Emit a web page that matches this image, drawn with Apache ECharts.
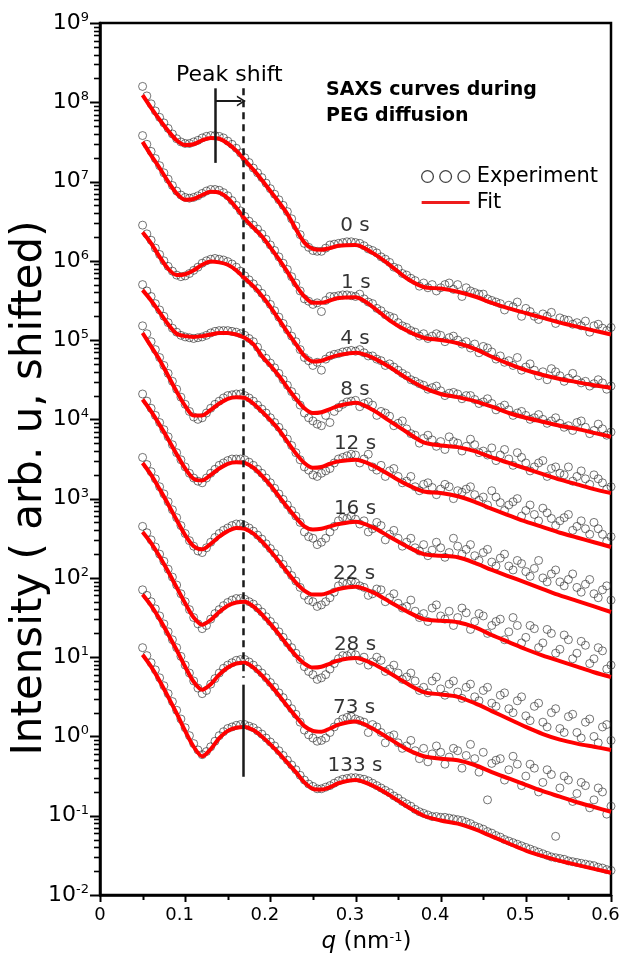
<!DOCTYPE html>
<html lang="en" style="height: 100%">
    <head>
        <meta charset="utf-8">
        <title>SAXS curves during PEG diffusion</title>
    </head>
    <body style="height: 100%; margin: 0; background: #fff">
        <div id="container" style="width: 621px; height: 965px"></div>
        <script src="https://cdn.jsdelivr.net/npm/echarts@6.0.0/dist/echarts.min.js"></script>
        <script>
            // q grid of the fit curves (nm^-1)
            let fitQ = [0.05, 0.06, 0.07, 0.08, 0.09, 0.10, 0.11, 0.12, 0.13, 0.14, 0.15, 0.16,
                0.17, 0.18, 0.19, 0.20, 0.21, 0.22, 0.23, 0.24, 0.25, 0.26, 0.27, 0.28,
                0.30, 0.32, 0.34, 0.36, 0.38, 0.40, 0.42, 0.44, 0.46, 0.48, 0.50, 0.52, 0.54, 0.56, 0.58, 0.60];

            // fit curves, log10 of intensity
            let fit0s = [8.09, 7.93, 7.78, 7.64, 7.52, 7.46, 7.47, 7.52, 7.55, 7.54, 7.48, 7.39, 7.27, 7.15, 7.02, 6.88, 6.74, 6.59, 6.40, 6.23, 6.15, 6.14, 6.16, 6.19,
                6.20, 6.10, 5.95, 5.78, 5.67, 5.65, 5.61, 5.55, 5.47, 5.40, 5.34, 5.28, 5.22, 5.17, 5.12, 5.07];
            let fit1s = [7.50, 7.33, 7.17, 7.00, 6.85, 6.77, 6.78, 6.83, 6.87, 6.86, 6.79, 6.67, 6.53, 6.42, 6.31, 6.17, 6.02, 5.86, 5.69, 5.55, 5.47, 5.47, 5.50, 5.53,
                5.54, 5.42, 5.25, 5.12, 5.03, 5.00, 4.96, 4.89, 4.79, 4.70, 4.62, 4.56, 4.51, 4.47, 4.43, 4.40];
            let fit4s = [6.36, 6.22, 6.05, 5.90, 5.82, 5.83, 5.88, 5.95, 5.99, 5.98, 5.95, 5.88, 5.78, 5.68, 5.56, 5.42, 5.26, 5.10, 4.95, 4.80, 4.73, 4.74, 4.78, 4.81,
                4.84, 4.78, 4.66, 4.52, 4.40, 4.32, 4.28, 4.23, 4.16, 4.08, 4.02, 3.97, 3.92, 3.88, 3.83, 3.78];
            let fit8s = [5.63, 5.50, 5.35, 5.20, 5.08, 5.05, 5.04, 5.05, 5.07, 5.09, 5.09, 5.07, 5.03, 4.95, 4.80, 4.68, 4.55, 4.40, 4.26, 4.14, 4.08, 4.09, 4.13, 4.17,
                4.21, 4.12, 3.98, 3.84, 3.71, 3.67, 3.65, 3.60, 3.52, 3.45, 3.38, 3.31, 3.24, 3.18, 3.12, 3.07];
            let fit12s = [5.09, 4.92, 4.75, 4.55, 4.35, 4.17, 4.05, 4.05, 4.12, 4.20, 4.26, 4.28, 4.27, 4.20, 4.10, 3.99, 3.87, 3.72, 3.57, 3.45, 3.39, 3.40, 3.44, 3.47,
                3.49, 3.42, 3.30, 3.18, 3.09, 3.07, 3.03, 2.96, 2.87, 2.79, 2.71, 2.64, 2.57, 2.51, 2.45, 2.39];
            let fit16s = [4.25, 4.10, 3.93, 3.75, 3.56, 3.38, 3.25, 3.23, 3.30, 3.38, 3.44, 3.46, 3.45, 3.39, 3.29, 3.17, 3.03, 2.89, 2.76, 2.65, 2.61, 2.62, 2.65, 2.68,
                2.71, 2.64, 2.52, 2.40, 2.30, 2.28, 2.26, 2.19, 2.10, 2.02, 1.94, 1.86, 1.78, 1.71, 1.64, 1.57];
            let fit22s = [3.45, 3.30, 3.12, 2.93, 2.73, 2.54, 2.40, 2.36, 2.43, 2.52, 2.59, 2.63, 2.62, 2.56, 2.46, 2.34, 2.21, 2.07, 1.94, 1.84, 1.79, 1.79, 1.82, 1.86,
                1.89, 1.82, 1.70, 1.58, 1.48, 1.46, 1.44, 1.38, 1.28, 1.19, 1.10, 1.02, 0.95, 0.88, 0.81, 0.75];
            let fit28s = [2.58, 2.44, 2.27, 2.08, 1.88, 1.68, 1.50, 1.41, 1.47, 1.57, 1.65, 1.69, 1.70, 1.64, 1.54, 1.42, 1.29, 1.15, 1.02, 0.92, 0.87, 0.88, 0.92, 0.96,
                0.99, 0.92, 0.80, 0.67, 0.56, 0.53, 0.50, 0.42, 0.32, 0.22, 0.12, 0.03, -0.04, -0.09, -0.13, -0.17];
            let fit73s = [1.79, 1.65, 1.48, 1.29, 1.09, 0.88, 0.69, 0.59, 0.66, 0.78, 0.87, 0.92, 0.93, 0.87, 0.77, 0.65, 0.52, 0.38, 0.25, 0.13, 0.07, 0.06, 0.10, 0.15,
                0.19, 0.10, -0.03, -0.16, -0.25, -0.28, -0.30, -0.36, -0.45, -0.53, -0.61, -0.69, -0.76, -0.83, -0.89, -0.95];
            let fit133s = [1.03, 0.88, 0.70, 0.50, 0.29, 0.07, -0.13, -0.25, -0.16, -0.02, 0.07, 0.11, 0.12, 0.08, 0.00, -0.10, -0.21, -0.33, -0.45, -0.58, -0.66, -0.67, -0.64, -0.59,
                -0.55, -0.62, -0.74, -0.88, -1.00, -1.06, -1.10, -1.17, -1.26, -1.35, -1.44, -1.51, -1.57, -1.62, -1.67, -1.72];

            // q grids of the experiment points
            let expQ = [0.05, 0.06, 0.07, 0.08, 0.09, 0.10, 0.11, 0.12, 0.13, 0.14,
                0.15, 0.16, 0.17, 0.18, 0.19, 0.20, 0.21, 0.22, 0.23, 0.24,
                0.25, 0.26, 0.27, 0.28, 0.29, 0.30, 0.31, 0.32, 0.33, 0.34,
                0.35, 0.36, 0.37, 0.38, 0.39, 0.40, 0.41, 0.42, 0.43, 0.44,
                0.45, 0.46, 0.47, 0.48, 0.49, 0.50, 0.51, 0.52, 0.53, 0.54,
                0.55, 0.56, 0.57, 0.58, 0.59, 0.60];
            let expQ2 = [0.305, 0.315, 0.325, 0.335, 0.345, 0.355, 0.365, 0.375, 0.385, 0.395,
                0.405, 0.415, 0.425, 0.435, 0.445, 0.455, 0.465, 0.475, 0.485, 0.495,
                0.505, 0.515, 0.525, 0.535, 0.545, 0.555, 0.565, 0.575, 0.585, 0.595];
            let expQ3 = [0.055, 0.065, 0.075, 0.085, 0.095, 0.105, 0.115, 0.125, 0.135, 0.145,
                0.155, 0.165, 0.175, 0.185, 0.195, 0.205, 0.215, 0.225, 0.235, 0.245,
                0.255, 0.265, 0.275, 0.285, 0.295];

            // experiment points, log10 of intensity
            let exp0s = [8.20, 7.98, 7.81, 7.67, 7.54, 7.48, 7.50, 7.55, 7.58, 7.57, 7.51, 7.42, 7.30, 7.17, 7.05, 6.91, 6.77, 6.62, 6.44, 6.22,
                6.13, 6.12, 6.20, 6.22, 6.24, 6.23, 6.19, 6.13, 6.05, 5.98, 5.90, 5.82, 5.75, 5.72, 5.70, 5.66, 5.72, 5.70, 5.66, 5.60,
                5.58, 5.50, 5.46, 5.44, 5.48, 5.40, 5.30, 5.33, 5.35, 5.28, 5.25, 5.22, 5.24, 5.18, 5.15, 5.16];
            let exp1s = [7.58, 7.38, 7.20, 7.03, 6.88, 6.80, 6.80, 6.85, 6.90, 6.89, 6.82, 6.70, 6.56, 6.45, 6.34, 6.20, 6.05, 5.89, 5.72, 5.52,
                5.45, 5.36, 5.55, 5.56, 5.57, 5.55, 5.52, 5.46, 5.37, 5.30, 5.22, 5.16, 5.10, 5.08, 5.05, 5.06, 5.03, 5.00, 4.98, 4.95,
                4.92, 4.85, 4.80, 4.74, 4.78, 4.66, 4.62, 4.60, 4.64, 4.55, 4.52, 4.50, 4.48, 4.45, 4.46, 4.42];
            let exp4s = [6.45, 6.26, 6.08, 5.93, 5.82, 5.81, 5.88, 5.97, 6.02, 6.02, 5.99, 5.92, 5.81, 5.71, 5.59, 5.45, 5.29, 5.13, 4.98, 4.78,
                4.68, 4.62, 4.80, 4.83, 4.86, 4.86, 4.84, 4.80, 4.74, 4.70, 4.62, 4.55, 4.48, 4.43, 4.40, 4.36, 4.33, 4.32, 4.30, 4.25,
                4.22, 4.20, 4.15, 4.12, 4.08, 4.05, 4.02, 4.00, 3.98, 3.95, 3.92, 3.96, 3.90, 3.86, 3.88, 3.84];
            let exp8s = [5.70, 5.55, 5.38, 5.22, 5.10, 5.04, 5.02, 5.04, 5.09, 5.12, 5.12, 5.10, 5.06, 4.98, 4.83, 4.71, 4.58, 4.43, 4.28, 4.08,
                3.98, 3.92, 3.96, 4.15, 4.22, 4.24, 4.20, 4.18, 4.10, 4.04, 3.95, 3.88, 3.80, 3.76, 3.74, 3.72, 3.78, 3.70, 3.66, 3.68,
                3.60, 3.64, 3.55, 3.50, 3.58, 3.45, 3.40, 3.48, 3.38, 3.32, 3.40, 3.28, 3.25, 3.30, 3.20, 3.15];
            let exp12s = [5.18, 4.98, 4.78, 4.58, 4.38, 4.19, 4.03, 4.02, 4.14, 4.23, 4.30, 4.32, 4.30, 4.23, 4.13, 4.02, 3.90, 3.75, 3.58, 3.40,
                3.30, 3.32, 3.38, 3.50, 3.54, 3.55, 3.50, 3.40, 3.42, 3.35, 3.28, 3.22, 3.15, 3.18, 3.14, 3.12, 3.15, 3.10, 3.12, 3.05,
                3.02, 3.10, 2.95, 2.92, 3.00, 2.85, 2.80, 2.88, 2.75, 2.72, 2.80, 2.65, 2.62, 2.70, 2.55, 2.52];
            let exp16s = [4.32, 4.14, 3.96, 3.78, 3.58, 3.40, 3.26, 3.20, 3.32, 3.42, 3.48, 3.50, 3.49, 3.42, 3.32, 3.20, 3.06, 2.92, 2.78, 2.58,
                2.50, 2.45, 2.58, 2.72, 2.75, 2.74, 2.72, 2.62, 2.66, 2.55, 2.50, 2.45, 2.38, 2.42, 2.35, 2.38, 2.32, 2.40, 2.36, 2.28,
                2.32, 2.20, 2.25, 2.15, 2.22, 2.08, 2.12, 2.00, 2.05, 1.95, 1.98, 1.88, 1.92, 1.80, 1.85, 1.72];
            let exp22s = [3.52, 3.34, 3.15, 2.96, 2.76, 2.56, 2.40, 2.32, 2.45, 2.56, 2.63, 2.68, 2.66, 2.59, 2.49, 2.37, 2.24, 2.10, 1.96, 1.78,
                1.70, 1.66, 1.75, 1.90, 1.93, 1.94, 1.88, 1.80, 1.85, 1.75, 1.68, 1.64, 1.58, 1.55, 1.62, 1.52, 1.58, 1.50, 1.56, 1.45,
                1.52, 1.40, 1.48, 1.32, 1.40, 1.25, 1.36, 1.18, 1.30, 1.10, 1.22, 1.05, 1.15, 0.98, 1.08, 0.90];
            let exp28s = [2.65, 2.48, 2.30, 2.11, 1.91, 1.70, 1.50, 1.36, 1.48, 1.60, 1.69, 1.74, 1.73, 1.67, 1.57, 1.45, 1.32, 1.18, 1.05, 0.88,
                0.78, 0.74, 0.85, 0.98, 1.02, 1.03, 1.00, 0.94, 0.96, 0.85, 0.80, 0.75, 0.70, 0.62, 0.70, 0.60, 0.66, 0.56, 0.62, 0.50,
                0.58, 0.42, 0.52, 0.35, 0.45, 0.26, 0.38, 0.18, 0.30, 0.10, 0.25, 0.05, 0.18, 0.00, 0.12, -0.05];
            let exp73s = [1.85, 1.70, 1.52, 1.32, 1.12, 0.90, 0.70, 0.54, 0.66, 0.80, 0.90, 0.96, 0.97, 0.90, 0.80, 0.68, 0.55, 0.42, 0.28, 0.08,
                -0.02, -0.05, 0.05, 0.18, 0.24, 0.22, 0.18, 0.15, 0.05, 0.00, -0.08, -0.12, -0.18, -0.15, -0.22, -0.20, -0.26, -0.18, -0.24, -0.28,
                -0.20, -0.34, -0.28, -0.42, -0.35, -0.50, -0.40, -0.58, -0.48, -0.65, -0.55, -0.72, -0.62, -0.80, -0.70, -0.88];
            let exp133s = [1.12, 0.93, 0.74, 0.54, 0.33, 0.11, -0.09, -0.23, -0.13, 0.01, 0.10, 0.14, 0.15, 0.11, 0.03, -0.07, -0.18, -0.30, -0.42, -0.55,
                -0.63, -0.66, -0.62, -0.56, -0.53, -0.52, -0.54, -0.59, -0.65, -0.71, -0.78, -0.85, -0.92, -0.97, -1.01, -1.02, -1.03, -1.05, -1.08, -1.13,
                -1.17, -1.22, -1.27, -1.32, -1.36, -1.40, -1.44, -1.48, -1.52, -1.54, -1.57, -1.59, -1.61, -1.63, -1.66, -1.69];

            // second layer of experiment points at high q (scatter cloud)
            let exp0sB = [6.22, 6.15, 6.10, 6.02, 5.92, 5.84, 5.78, 5.68, 5.66, 5.62, 5.70, 5.64, 5.55, 5.62, 5.58, 5.52, 5.48, 5.38, 5.42, 5.30,
                5.36, 5.26, 5.30, 5.21, 5.26, 5.20, 5.18, 5.10, 5.20, 5.12];
            let exp1sB = [5.58, 5.48, 5.40, 5.32, 5.28, 5.18, 5.12, 5.05, 5.02, 5.08, 4.98, 5.05, 4.95, 4.90, 4.84, 4.90, 4.76, 4.72, 4.68, 4.62,
                4.70, 4.55, 4.50, 4.60, 4.48, 4.58, 4.46, 4.42, 4.50, 4.38];
            let exp4sB = [4.88, 4.80, 4.76, 4.68, 4.66, 4.58, 4.50, 4.45, 4.38, 4.42, 4.30, 4.34, 4.26, 4.30, 4.20, 4.26, 4.12, 4.18, 4.05, 4.10,
                4.00, 4.06, 3.95, 4.02, 3.90, 3.86, 3.98, 3.82, 3.94, 3.80];
            let exp8sB = [4.16, 4.22, 4.05, 4.08, 3.92, 3.98, 3.82, 3.70, 3.80, 3.66, 3.62, 3.72, 3.60, 3.75, 3.58, 3.55, 3.48, 3.62, 3.42, 3.52,
                3.35, 3.45, 3.28, 3.40, 3.30, 3.22, 3.35, 3.18, 3.25, 3.12];
            let exp12sB = [3.45, 3.56, 3.36, 3.28, 3.38, 3.20, 3.28, 3.10, 3.20, 3.05, 3.18, 3.00, 3.08, 3.15, 2.98, 2.92, 3.02, 2.85, 2.96, 2.78,
                2.92, 2.72, 2.82, 2.66, 2.76, 2.60, 2.72, 2.55, 2.62, 2.46];
            let exp16sB = [2.68, 2.58, 2.70, 2.48, 2.60, 2.40, 2.50, 2.34, 2.28, 2.45, 2.26, 2.50, 2.30, 2.42, 2.22, 2.36, 2.15, 2.30, 2.10, 2.18,
                2.02, 2.22, 1.95, 2.10, 1.90, 2.05, 1.82, 1.98, 1.75, 1.90];
            let exp22sB = [1.90, 1.78, 1.86, 1.70, 1.80, 1.62, 1.72, 1.50, 1.45, 1.66, 1.48, 1.40, 1.62, 1.35, 1.55, 1.30, 1.45, 1.22, 1.50, 1.18,
                1.40, 1.12, 1.35, 1.05, 1.28, 0.98, 1.20, 0.92, 1.12, 0.85];
            let exp28sB = [0.96, 0.90, 1.00, 0.82, 0.90, 0.72, 0.80, 0.58, 0.55, 0.75, 0.52, 0.70, 0.48, 0.66, 0.45, 0.62, 0.38, 0.55, 0.30, 0.50,
                0.20, 0.42, 0.12, 0.35, 0.05, 0.28, -0.02, 0.22, -0.08, 0.15];
            let exp73sB = [0.20, 0.05, 0.12, -0.08, 0.02, -0.15, -0.05, -0.28, -0.32, -0.12, -0.35, -0.15, -0.40, -0.10, -0.45, -0.80, -0.30, -0.55, -0.25, -0.62,
                -0.35, -0.70, -0.42, -1.26, -0.50, -0.82, -0.58, -0.90, -0.65, -0.98];
            let exp133sB = [-0.53, -0.56, -0.62, -0.68, -0.75, -0.82, -0.88, -0.95, -0.99, -1.01, -1.02, -1.04, -1.06, -1.10, -1.15, -1.20, -1.25, -1.30, -1.34, -1.38,
                -1.42, -1.46, -1.50, -1.53, -1.55, -1.58, -1.60, -1.62, -1.65, -1.68];

            // third layer of experiment points at low q (dense band)
            let exp0sC = [8.08, 7.89, 7.74, 7.60, 7.50, 7.48, 7.52, 7.57, 7.58, 7.55, 7.47, 7.36, 7.24, 7.11, 6.98, 6.84, 6.70, 6.53, 6.33, 6.17,
                6.12, 6.16, 6.21, 6.23, 6.24];
            let exp1sC = [7.47, 7.29, 7.11, 6.95, 6.83, 6.79, 6.82, 6.88, 6.90, 6.86, 6.76, 6.63, 6.50, 6.40, 6.27, 6.13, 5.97, 5.80, 5.62, 5.49,
                5.47, 5.50, 5.55, 5.57, 5.56];
            let exp4sC = [6.34, 6.16, 6.00, 5.87, 5.80, 5.84, 5.92, 6.00, 6.03, 6.01, 5.96, 5.87, 5.76, 5.65, 5.52, 5.37, 5.21, 5.05, 4.88, 4.74,
                4.72, 4.76, 4.82, 4.85, 4.87];
            let exp8sC = [5.62, 5.46, 5.30, 5.15, 5.06, 5.03, 5.03, 5.06, 5.11, 5.12, 5.11, 5.08, 5.02, 4.91, 4.77, 4.65, 4.50, 4.35, 4.18, 4.02,
                3.94, 4.05, 4.10, 4.19, 4.23];
            let exp12sC = [5.08, 4.88, 4.68, 4.48, 4.28, 4.10, 4.00, 4.08, 4.19, 4.27, 4.31, 4.32, 4.27, 4.18, 4.08, 3.96, 3.83, 3.67, 3.49, 3.36,
                3.28, 3.35, 3.45, 3.52, 3.56];
            let exp16sC = [4.23, 4.05, 3.87, 3.68, 3.49, 3.32, 3.22, 3.26, 3.37, 3.45, 3.50, 3.50, 3.46, 3.37, 3.26, 3.13, 2.99, 2.85, 2.70, 2.52,
                2.42, 2.50, 2.65, 2.76, 2.78];
            let exp22sC = [3.43, 3.25, 3.06, 2.86, 2.66, 2.47, 2.34, 2.38, 2.51, 2.60, 2.66, 2.68, 2.63, 2.54, 2.43, 2.31, 2.17, 2.03, 1.88, 1.72,
                1.64, 1.70, 1.82, 1.94, 1.96];
            let exp28sC = [2.57, 2.39, 2.21, 2.01, 1.80, 1.60, 1.42, 1.40, 1.55, 1.65, 1.72, 1.74, 1.70, 1.62, 1.51, 1.39, 1.25, 1.12, 0.97, 0.82,
                0.72, 0.78, 0.92, 1.02, 1.05];
            let exp73sC = [1.78, 1.61, 1.42, 1.22, 1.01, 0.80, 0.61, 0.58, 0.73, 0.86, 0.93, 0.97, 0.94, 0.85, 0.74, 0.62, 0.49, 0.35, 0.18, 0.02,
                -0.06, -0.02, 0.12, 0.22, 0.25];
            let exp133sC = [1.02, 0.84, 0.64, 0.44, 0.22, 0.01, -0.17, -0.19, -0.06, 0.06, 0.12, 0.15, 0.13, 0.07, -0.02, -0.12, -0.24, -0.36, -0.49, -0.60,
                -0.66, -0.64, -0.59, -0.54, -0.52];

            // curve labels: text, q and log10 position
            let curveLabels = ["0 s", "1 s", "4 s", "8 s", "12 s", "16 s", "22 s", "28 s", "73 s", "133 s"];
            let labelQ = [0.300, 0.301, 0.300, 0.300, 0.300, 0.300, 0.299, 0.300, 0.299, 0.300];
            let labelLog = [6.44, 5.715, 5.01, 4.37, 3.69, 2.865, 2.045, 1.15, 0.35, -0.375];

            // tick values: decades get labels on the intensity axis, 2..9 are minor ticks
            let decadeTicks = [1e-2, 1e-1, 1, 10, 1e2, 1e3, 1e4, 1e5, 1e6, 1e7, 1e8, 1e9];
            let minorTickValues = [2e-2, 3e-2, 4e-2, 5e-2, 6e-2, 7e-2, 8e-2, 9e-2,
                2e-1, 3e-1, 4e-1, 5e-1, 6e-1, 7e-1, 8e-1, 9e-1,
                2, 3, 4, 5, 6, 7, 8, 9, 20, 30, 40, 50, 60, 70, 80, 90,
                2e2, 3e2, 4e2, 5e2, 6e2, 7e2, 8e2, 9e2, 2e3, 3e3, 4e3, 5e3, 6e3, 7e3, 8e3, 9e3,
                2e4, 3e4, 4e4, 5e4, 6e4, 7e4, 8e4, 9e4, 2e5, 3e5, 4e5, 5e5, 6e5, 7e5, 8e5, 9e5,
                2e6, 3e6, 4e6, 5e6, 6e6, 7e6, 8e6, 9e6, 2e7, 3e7, 4e7, 5e7, 6e7, 7e7, 8e7, 9e7,
                2e8, 3e8, 4e8, 5e8, 6e8, 7e8, 8e8, 9e8];
            let qMajorTicks = [0, 0.1, 0.2, 0.3, 0.4, 0.5, 0.6];
            let qMinorTicks = [0.05, 0.15, 0.25, 0.35, 0.45, 0.55];

            // peak shift markers (q, intensity)
            let shiftFromQ = 0.1355;
            let shiftToQ = 0.166;
            let peakQ = 0.168;
            let markerTop = 1.5e8;
            let shiftLineBottom = 1.72e7;
            let arrowLevel = 1.04e8;
            let dashedBottom = 5.5;
            let solidTop = 4.5;
            let solidBottom = 0.31;

            let fitLogs = [fit0s, fit1s, fit4s, fit8s, fit12s, fit16s, fit22s, fit28s, fit73s, fit133s];
            let expLogs = [exp0s, exp1s, exp4s, exp8s, exp12s, exp16s, exp22s, exp28s, exp73s, exp133s];
            let expLogsB = [exp0sB, exp1sB, exp4sB, exp8sB, exp12sB, exp16sB, exp22sB, exp28sB, exp73sB, exp133sB];
            let expLogsC = [exp0sC, exp1sC, exp4sC, exp8sC, exp12sC, exp16sC, exp22sC, exp28sC, exp73sC, exp133sC];

            let font = "DejaVu Sans";
            let ink = "#000";
            let circles = "path://M0.5,6a5.5,5.5 0 1,0 11,0a5.5,5.5 0 1,0 -11,0Z" +
                "M17.5,6a5.5,5.5 0 1,0 11,0a5.5,5.5 0 1,0 -11,0Z" +
                "M34.5,6a5.5,5.5 0 1,0 11,0a5.5,5.5 0 1,0 -11,0Z";
            let redBar = "path://M0,0M48,12M0,4.5L48,4.5L48,7.5L0,7.5Z";

            function toPoints(qs, logs) {
                let points = [];
                for (let index = 0; index < qs.length; index++) {
                    points.push([qs[index], Math.pow(10, logs[index])]);
                }
                return points;
            }

            function buildSeries() {
                let series = [];

                for (let index = 0; index < curveLabels.length; index++) {
                    series.push({
                        name: "Experiment",
                        type: "scatter",
                        symbol: "circle",
                        symbolSize: 8,
                        z: 2,
                        silent: true,
                        itemStyle: { color: "transparent", borderColor: "#262626", borderWidth: 0.8 },
                        data: toPoints(expQ, expLogs[index])
                            .concat(toPoints(expQ2, expLogsB[index]))
                            .concat(toPoints(expQ3, expLogsC[index]))
                    });
                }

                for (let index = 0; index < curveLabels.length; index++) {
                    series.push({
                        name: "Fit",
                        type: "line",
                        smooth: 0.3,
                        symbol: "none",
                        z: 3,
                        silent: true,
                        lineStyle: { color: "#ff0000", width: 4 },
                        itemStyle: { color: "#ff0000" },
                        data: toPoints(fitQ, fitLogs[index])
                    });
                }

                let labelData = [];
                for (let index = 0; index < curveLabels.length; index++) {
                    labelData.push({ name: curveLabels[index], value: [labelQ[index], Math.pow(10, labelLog[index])] });
                }
                series.push({
                    name: "labels",
                    type: "scatter",
                    symbolSize: 1,
                    z: 4,
                    silent: true,
                    itemStyle: { color: "transparent" },
                    label: {
                        show: true,
                        position: [0, 0],
                        align: "center",
                        verticalAlign: "middle",
                        formatter: "{b}",
                        fontFamily: font,
                        fontSize: 20,
                        color: ink,
                        textBorderWidth: 0
                    },
                    data: labelData
                });

                series.push({
                    name: "markers",
                    type: "line",
                    data: [],
                    z: 5,
                    markLine: {
                        silent: true,
                        symbol: ["none", "none"],
                        label: { show: false },
                        lineStyle: { color: "#1a1a1a", width: 2.5, type: "solid" },
                        data: [
                            [{ coord: [peakQ, markerTop], lineStyle: { type: [7, 5] } }, { coord: [peakQ, dashedBottom] }],
                            [{ coord: [peakQ, solidTop] }, { coord: [peakQ, solidBottom] }],
                            [{ coord: [shiftFromQ, markerTop] }, { coord: [shiftFromQ, shiftLineBottom] }],
                            [{ coord: [shiftFromQ, arrowLevel], lineStyle: { width: 2 } },
                                { coord: [shiftToQ, arrowLevel], symbol: "path://M0,10L5,0L10,10L8.4,10L5,3.4L1.6,10Z", symbolSize: [11, 9] }]
                        ]
                    }
                });

                return series;
            }

            // axis ticks placed through the chart's own scales
            function tickMarks(chart) {
                let elements = [];
                let axisX = chart.convertToPixel({ xAxisIndex: 0 }, 0);
                let axisY = chart.convertToPixel({ yAxisIndex: 0 }, decadeTicks[0]);

                function addTick(x1, y1, x2, y2, width) {
                    elements.push({
                        type: "line",
                        silent: true,
                        z: 10,
                        shape: { x1: x1, y1: y1, x2: x2, y2: y2 },
                        style: { stroke: "#000", lineWidth: width }
                    });
                }

                decadeTicks.forEach(function (value) {
                    let y = Math.round(chart.convertToPixel({ yAxisIndex: 0 }, value)) + 0.5;
                    addTick(axisX - 10, y, axisX, y, 2);
                });
                minorTickValues.forEach(function (value) {
                    let y = Math.round(chart.convertToPixel({ yAxisIndex: 0 }, value)) + 0.5;
                    addTick(axisX - 6, y, axisX, y, 1.6);
                });
                qMajorTicks.forEach(function (value) {
                    let x = Math.round(chart.convertToPixel({ xAxisIndex: 0 }, value)) + 0.5;
                    addTick(x, axisY, x, axisY + 7, 2);
                });
                qMinorTicks.forEach(function (value) {
                    let x = Math.round(chart.convertToPixel({ xAxisIndex: 0 }, value)) + 0.5;
                    addTick(x, axisY, x, axisY + 5, 2);
                });

                return elements;
            }

            function drawChart() {
                let dom = document.getElementById("container");
                let chart = echarts.init(dom, null, { renderer: "canvas" });

                let option = {
                    animation: false,
                    backgroundColor: "#fff",
                    title: [
                        {
                            text: "Peak shift",
                            left: 171,
                            top: 59,
                            textStyle: { fontFamily: font, fontSize: 22, fontWeight: "normal", color: ink }
                        },
                        {
                            text: "SAXS curves during\nPEG diffusion",
                            left: 321,
                            top: 72,
                            textStyle: { fontFamily: font, fontSize: 19, fontWeight: "bold", color: ink, lineHeight: 26 }
                        }
                    ],
                    legend: {
                        orient: "vertical",
                        left: 416,
                        top: 161,
                        itemWidth: 48,
                        itemHeight: 12,
                        itemGap: 5,
                        selectedMode: false,
                        textStyle: { fontFamily: font, fontSize: 21, color: ink, padding: [0, 0, 0, 2] },
                        data: [
                            { name: "Experiment", icon: circles, itemStyle: { color: "transparent", borderColor: "#111", borderWidth: 1.3 } },
                            { name: "Fit", icon: redBar, itemStyle: { color: "#ee1c1c", borderWidth: 0 } }
                        ]
                    },
                    grid: {
                        left: 100,
                        right: 10,
                        top: 23,
                        bottom: 70,
                        show: true,
                        borderColor: "#000",
                        borderWidth: 2.5,
                        outerBoundsMode: "none"
                    },
                    xAxis: {
                        type: "value",
                        min: 0,
                        max: 0.6,
                        interval: 0.1,
                        name: "{i|q} (nm{s|-1})",
                        nameLocation: "middle",
                        nameGap: 36,
                        nameTextStyle: {
                            padding: [0, 0, 0, 22],
                            rich: {
                                i: { fontFamily: font, fontSize: 23, fontStyle: "italic", color: ink },
                                s: { fontFamily: font, fontSize: 13, color: ink, verticalAlign: "top", lineHeight: 13 }
                            },
                            fontFamily: font,
                            fontSize: 23,
                            color: ink
                        },
                        axisLine: { onZero: false, lineStyle: { color: "#000", width: 2.5 } },
                        axisTick: { show: false },
                        minorTick: { show: false },
                        splitLine: { show: false },
                        axisLabel: {
                            margin: 11,
                            formatter: function (value) {
                                if (value === 0) {
                                    return "{z|0}";
                                }
                                return "{n|" + String(Math.round(value * 10) / 10) + "}";
                            },
                            rich: {
                                z: { fontFamily: font, fontSize: 18, color: ink },
                                n: { fontFamily: font, fontSize: 18, color: ink, padding: [0, 11, 0, 0] }
                            }
                        }
                    },
                    yAxis: {
                        type: "log",
                        logBase: 10,
                        min: 0.01,
                        max: 1e9,
                        interval: 1,
                        position: "left",
                        name: "Intensity ( arb. u, shifted)",
                        nameLocation: "middle",
                        nameRotate: 90,
                        nameGap: 49,
                        nameMoveOverlap: false,
                        nameTextStyle: { fontFamily: font, fontSize: 42, lineHeight: 42, color: ink, padding: [0, 58, 0, 0] },
                        axisLine: { show: true, onZero: false, lineStyle: { color: "#000", width: 2.5 } },
                        axisTick: { show: false },
                        splitLine: { show: false },
                        axisLabel: {
                            margin: 11,
                            customValues: decadeTicks,
                            formatter: function (value) {
                                return "{b|10}{s|" + Math.round(Math.log10(value)) + "}";
                            },
                            rich: {
                                b: { fontFamily: font, fontSize: 22, color: ink, lineHeight: 24 },
                                s: { fontFamily: font, fontSize: 13, color: ink, lineHeight: 13, verticalAlign: "top" }
                            }
                        }
                    },
                    series: buildSeries()
                };

                chart.setOption(option);
                chart.setOption({ graphic: { elements: tickMarks(chart) } });
                window.addEventListener("resize", chart.resize);
            }

            drawChart();
        </script>
    </body>
</html>
